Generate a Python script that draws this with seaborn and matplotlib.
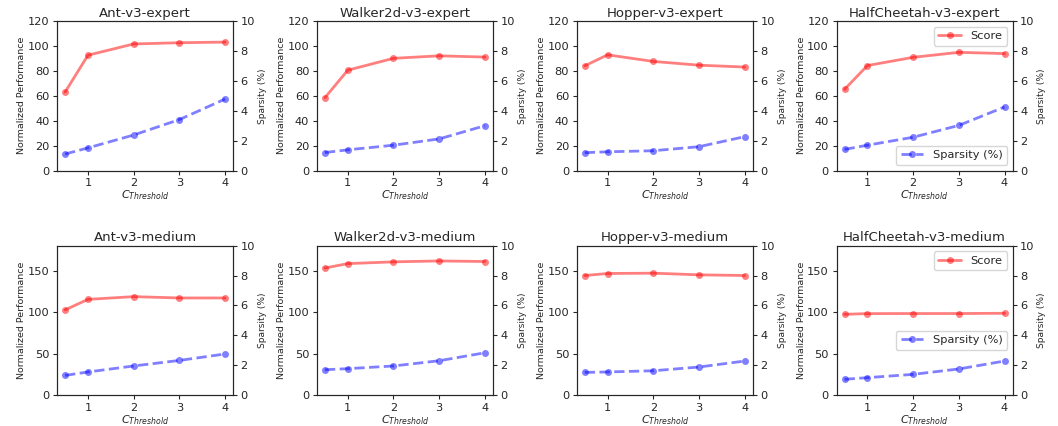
import numpy as np
import pandas as pd
import matplotlib
matplotlib.use('Agg')
import matplotlib.pyplot as plt
import seaborn as sns

# dados
thresholds = [0.5, 1, 2, 3, 4]

titles_expert = ['Ant-v3-expert', 'Walker2d-v3-expert', 'Hopper-v3-expert', 'HalfCheetah-v3-expert']
titles_medium = ['Ant-v3-medium', 'Walker2d-v3-medium', 'Hopper-v3-medium', 'HalfCheetah-v3-medium']

score_ant_expert = [63, 92.5, 101.5, 102.5, 103]
score_walker_expert = [58.5, 80.5, 90, 92, 91]
score_hopper_expert = [84, 92.8, 87.5, 84.5, 83]
score_cheetah_expert = [65.2, 84.2, 90.8, 94.8, 93.8]

sparsity_ant_expert = [1.11, 1.52, 2.38, 3.41, 4.78]
sparsity_walker_expert = [1.21, 1.39, 1.7, 2.12, 3.0]
sparsity_hopper_expert = [1.2, 1.26, 1.33, 1.6, 2.27]
sparsity_cheetah_expert = [1.42, 1.7, 2.23, 3.02, 4.25]

score_ant_medium = [102.7, 115.3, 118.6, 117, 117]
score_walker_medium = [153, 158.3, 160.4, 161.5, 160.8]
score_hopper_medium = [144, 146.4, 146.8, 144.8, 144]
score_cheetah_medium = [97.4, 98.2, 98.3, 98.3, 98.6]

sparsity_ant_medium = [1.33, 1.56, 1.96, 2.33, 2.76]
sparsity_walker_medium = [1.71, 1.78, 1.96, 2.31, 2.84]
sparsity_hopper_medium = [1.53, 1.56, 1.64, 1.89, 2.29]
sparsity_cheetah_medium = [1.07, 1.18, 1.4, 1.76, 2.29]

scores = [score_ant_expert, score_walker_expert, score_hopper_expert, score_cheetah_expert,
          score_ant_medium, score_walker_medium, score_hopper_medium, score_cheetah_medium]
sparsities = [sparsity_ant_expert, sparsity_walker_expert, sparsity_hopper_expert, sparsity_cheetah_expert,
              sparsity_ant_medium, sparsity_walker_medium, sparsity_hopper_medium, sparsity_cheetah_medium]
titles = titles_expert + titles_medium

sns.set_style('ticks')
plt.rcParams['font.family'] = ['DejaVu Sans']

fig, axes = plt.subplots(2, 4, figsize=(10.58, 4.26), dpi=100)
plt.subplots_adjust(left=0.054, right=0.957, top=0.951, bottom=0.072, wspace=0.477, hspace=0.5)

for i, ax in enumerate(axes.flat):
    df = pd.DataFrame({'C': thresholds, 'Score': scores[i], 'Sparsity': sparsities[i]})
    ax2 = ax.twinx()

    sns.lineplot(data=df, x='C', y='Score', ax=ax, color='red', alpha=0.5, marker='o',
                 markersize=5, markeredgewidth=0, linewidth=2, label='Score', legend=False)
    sns.lineplot(data=df, x='C', y='Sparsity', ax=ax2, color='blue', alpha=0.5, marker='o',
                 markersize=5, markeredgewidth=0, linewidth=2, linestyle='--',
                 label='Sparsity (%)', legend=False)

    if i < 4:
        ax.set_ylim(0, 120)
        ax.set_yticks([0, 20, 40, 60, 80, 100, 120])
    else:
        ax.set_ylim(0, 180)
        ax.set_yticks([0, 50, 100, 150])
    ax2.set_ylim(0, 10)
    ax2.set_yticks([0, 2, 4, 6, 8, 10])
    ax.set_xticks([1, 2, 3, 4])

    ax.set_title(titles[i], fontsize=9.5, pad=3)
    ax.set_xlabel('$C_{Threshold}$', fontsize=8, labelpad=0)
    ax.set_ylabel('Normalized Performance', fontsize=6.8, labelpad=1)
    ax2.set_ylabel('Sparsity (%)', fontsize=6.5, labelpad=2)
    ax.tick_params(labelsize=8.2, length=3, pad=2.5)
    ax2.tick_params(labelsize=8.2, length=3, pad=2.5)

    if i == 3:
        ax.legend(loc='upper right', fontsize=8.2)
        ax2.legend(loc='lower right', fontsize=8.2)
    if i == 7:
        ax.legend(loc='upper right', fontsize=8.2)
        ax2.legend(loc='center right', bbox_to_anchor=(1.0, 0.367), fontsize=8.2)

plt.savefig('out.png', dpi=100)
